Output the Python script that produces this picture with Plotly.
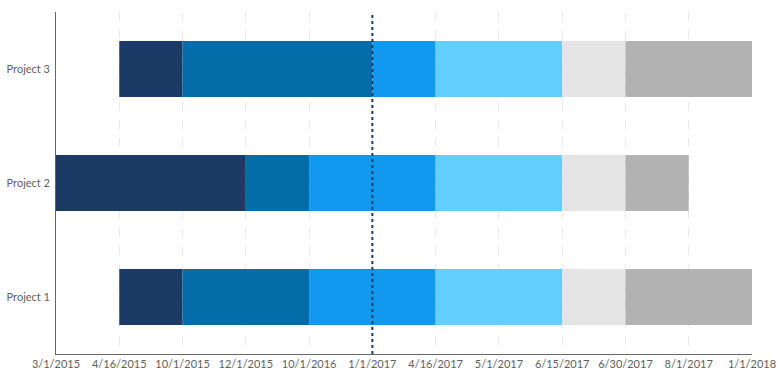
import plotly.graph_objects as go
import numpy as np

projects = ["Project 1", "Project 2", "Project 3"]
tick_labels = ["3/1/2015", "4/16/2015", "10/1/2015", "12/1/2015", "10/1/2016", "1/1/2017",
               "4/16/2017", "5/1/2017", "6/15/2017", "6/30/2017", "8/1/2017", "1/1/2018"]
start_offset = [1, 0, 1]
phase1 = [1, 3, 1]
phase2 = [2, 1, 3]
phase3 = [2, 2, 1]
phase4 = [2, 2, 2]
phase5 = [1, 1, 1]
phase6 = [2, 1, 2]
today_index = 5

phases = [phase1, phase2, phase3, phase4, phase5, phase6]
colors = ["#1b3a66", "#046ca8", "#1198ef", "#63cfff", "#e4e4e4", "#b2b2b2"]

fig = go.Figure()
base = np.array(start_offset, dtype=float)
for i, (vals, c) in enumerate(zip(phases, colors)):
    fig.add_trace(go.Bar(y=projects, x=vals, base=base.copy(), orientation="h", name=f"Phase {i+1}",
                         marker=dict(color=c, line=dict(width=0)), showlegend=False))
    base = base + np.array(vals)

fig.add_shape(type="line", x0=today_index, x1=today_index, y0=0, y1=1, yref="paper",
              line=dict(color="#1b3a66", width=2, dash="dot"), layer="above")

fig.update_layout(
    barmode="overlay", bargap=0.51,
    width=778, height=378,
    margin=dict(l=56, r=26, t=12, b=24),
    plot_bgcolor="white", paper_bgcolor="white",
    font=dict(family="Lato, Segoe UI, sans-serif", size=11, color="#605e5c"),
    xaxis=dict(range=[0, 11], tickmode="array", tickvals=list(range(len(tick_labels))),
               ticktext=tick_labels, showgrid=True, gridcolor="#e8e8e8", griddash="dash",
               gridwidth=1, zeroline=False, showline=True, linecolor="#666666", linewidth=1,
               ticks="", automargin=False, tickfont=dict(size=11, color="#605e5c")),
    yaxis=dict(showgrid=False, zeroline=False, showline=True, linecolor="#666666", linewidth=1,
               ticks="", ticksuffix=" ", automargin=False, tickfont=dict(size=11, color="#605e5c")),
)

fig.write_html("out.html", config={"displayModeBar": False},
               post_script="document.body.style.margin='0';document.body.style.overflow='hidden';")
